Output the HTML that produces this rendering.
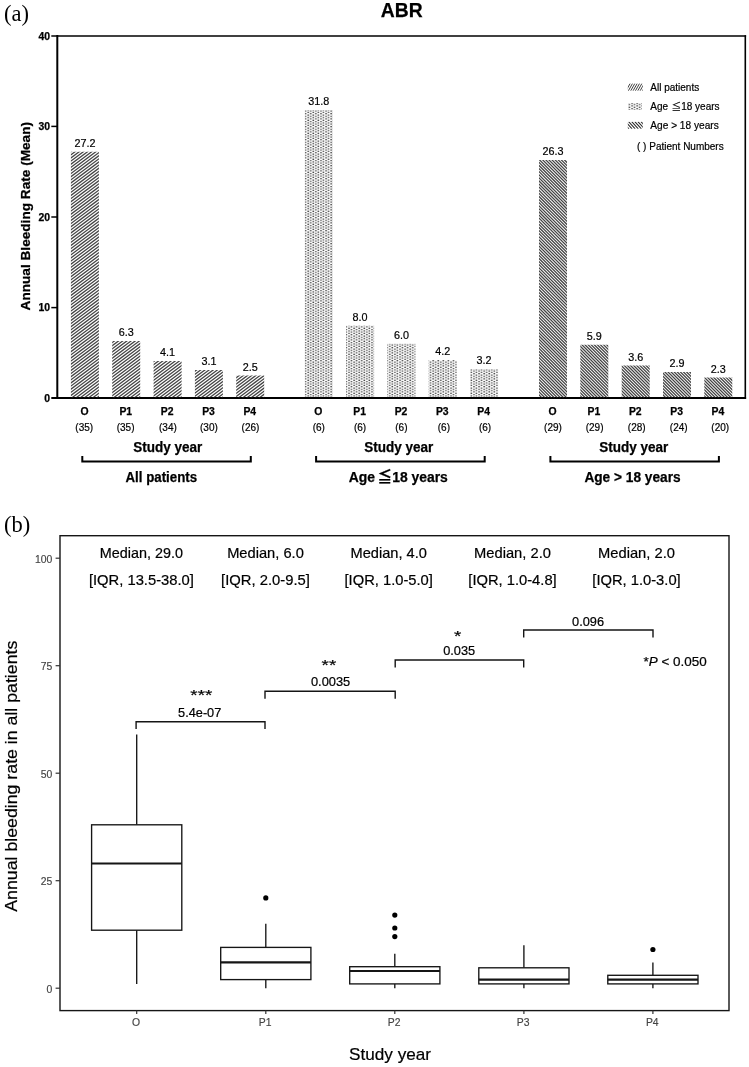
<!DOCTYPE html>
<html lang="en"><head><meta charset="utf-8"><title>ABR figure</title>
<style>
html,body{margin:0;padding:0;background:#fff;}
svg{display:block;filter:grayscale(1);}
text{font-family:"Liberation Sans","Noto Sans CJK TC",sans-serif;fill:#000;stroke:#000;stroke-width:.2px;}
.serif{font-family:"Liberation Serif",serif;stroke:none;}
.b{font-weight:bold;stroke:#000;stroke-width:.25px;}
.g{fill:#444;stroke:#444;stroke-width:.15px;}
</style></head><body>
<svg width="749" height="1067" viewBox="0 0 749 1067">
<defs>
<pattern id="h2" patternUnits="userSpaceOnUse" width="5.1" height="2.6" x="304.6" y="110.5"><rect x="0.3" y="0.1" width="1.55" height="1.1" fill="#2a2a2a"/><rect x="2.85" y="1.4" width="1.55" height="1.1" fill="#2a2a2a"/></pattern>
</defs>
<rect width="749" height="1067" fill="#fff"/>
<text class="serif" x="4" y="20.7" font-size="22.5">(a)</text>
<text class="b" x="401.7" y="16.6" font-size="19.6" text-anchor="middle" textLength="41.8" lengthAdjust="spacingAndGlyphs">ABR</text>
<g stroke="#000" fill="none">
<line x1="57.3" y1="35" x2="57.3" y2="399" stroke-width="2"/>
<line x1="51.3" y1="398" x2="746.1" y2="398" stroke-width="2"/>
<line x1="51.3" y1="35.9" x2="746.1" y2="35.9" stroke-width="1.5"/>
<line x1="745.3" y1="35.2" x2="745.3" y2="399" stroke-width="1.6"/>
<line x1="51.3" y1="307.6" x2="57" y2="307.6" stroke-width="1.5"/>
<line x1="51.3" y1="217.0" x2="57" y2="217.0" stroke-width="1.5"/>
<line x1="51.3" y1="126.4" x2="57" y2="126.4" stroke-width="1.5"/>
</g>
<text class="b" x="50" y="401.7" font-size="10.4" text-anchor="end">0</text>
<text class="b" x="50" y="311.4" font-size="10.4" text-anchor="end">10</text>
<text class="b" x="50" y="220.8" font-size="10.4" text-anchor="end">20</text>
<text class="b" x="50" y="130.2" font-size="10.4" text-anchor="end">30</text>
<text class="b" x="50" y="39.5" font-size="10.4" text-anchor="end">40</text>
<text class="b" transform="translate(30.4,216.2) rotate(-90)" font-size="13.3" text-anchor="middle" textLength="188.5" lengthAdjust="spacingAndGlyphs">Annual Bleeding Rate (Mean)</text>
<text x="84.9" y="146.9" font-size="10.8" text-anchor="middle">27.2</text>
<text class="b" x="84.5" y="414.6" font-size="10.4" text-anchor="middle">O</text>
<text x="84.2" y="431" font-size="10" text-anchor="middle">(35)</text>
<text x="126.2" y="336.2" font-size="10.8" text-anchor="middle">6.3</text>
<text class="b" x="125.8" y="414.6" font-size="10.4" text-anchor="middle">P1</text>
<text x="125.6" y="431" font-size="10" text-anchor="middle">(35)</text>
<text x="167.6" y="356.2" font-size="10.8" text-anchor="middle">4.1</text>
<text class="b" x="167.2" y="414.6" font-size="10.4" text-anchor="middle">P2</text>
<text x="167.9" y="431" font-size="10" text-anchor="middle">(34)</text>
<text x="208.9" y="365.2" font-size="10.8" text-anchor="middle">3.1</text>
<text class="b" x="208.5" y="414.6" font-size="10.4" text-anchor="middle">P3</text>
<text x="208.9" y="431" font-size="10" text-anchor="middle">(30)</text>
<text x="250.2" y="370.7" font-size="10.8" text-anchor="middle">2.5</text>
<text class="b" x="249.8" y="414.6" font-size="10.4" text-anchor="middle">P4</text>
<text x="250.5" y="431" font-size="10" text-anchor="middle">(26)</text>
<path d="M82.3 456 V461.6 H250.8 V456" fill="none" stroke="#000" stroke-width="2"/>
<text class="b" x="167.8" y="452.2" font-size="13.8" text-anchor="middle" textLength="69" lengthAdjust="spacingAndGlyphs">Study year</text>
<text class="b" x="161.3" y="482.4" font-size="13.9" text-anchor="middle" textLength="71.6" lengthAdjust="spacingAndGlyphs">All patients</text>
<rect x="304.8" y="110.1" width="28.0" height="287.1" fill="url(#h2)"/>
<text x="318.8" y="105.2" font-size="10.8" text-anchor="middle">31.8</text>
<text class="b" x="318.4" y="414.6" font-size="10.4" text-anchor="middle">O</text>
<text x="318.8" y="431" font-size="10" text-anchor="middle">(6)</text>
<rect x="346.1" y="325.7" width="28.0" height="71.5" fill="url(#h2)"/>
<text x="360.1" y="320.8" font-size="10.8" text-anchor="middle">8.0</text>
<text class="b" x="359.7" y="414.6" font-size="10.4" text-anchor="middle">P1</text>
<text x="360.1" y="431" font-size="10" text-anchor="middle">(6)</text>
<rect x="387.4" y="343.8" width="28.0" height="53.4" fill="url(#h2)"/>
<text x="401.4" y="338.9" font-size="10.8" text-anchor="middle">6.0</text>
<text class="b" x="401.0" y="414.6" font-size="10.4" text-anchor="middle">P2</text>
<text x="401.4" y="431" font-size="10" text-anchor="middle">(6)</text>
<rect x="428.7" y="360.1" width="28.0" height="37.1" fill="url(#h2)"/>
<text x="442.7" y="355.2" font-size="10.8" text-anchor="middle">4.2</text>
<text class="b" x="442.3" y="414.6" font-size="10.4" text-anchor="middle">P3</text>
<text x="443.9" y="431" font-size="10" text-anchor="middle">(6)</text>
<rect x="470.1" y="369.2" width="28.0" height="28.0" fill="url(#h2)"/>
<text x="484.1" y="364.3" font-size="10.8" text-anchor="middle">3.2</text>
<text class="b" x="483.7" y="414.6" font-size="10.4" text-anchor="middle">P4</text>
<text x="485.1" y="431" font-size="10" text-anchor="middle">(6)</text>
<path d="M316.1 456 V461.6 H484.7 V456" fill="none" stroke="#000" stroke-width="2"/>
<text class="b" x="398.8" y="452.2" font-size="13.8" text-anchor="middle" textLength="69" lengthAdjust="spacingAndGlyphs">Study year</text>
<text class="b" x="348.8" y="482.4" font-size="13.9">Age <tspan x="377.6" font-size="14.5">≦</tspan><tspan x="392.2">18 years</tspan></text>
<text x="553.0" y="155.0" font-size="10.8" text-anchor="middle">26.3</text>
<text class="b" x="552.6" y="414.6" font-size="10.4" text-anchor="middle">O</text>
<text x="553.0" y="431" font-size="10" text-anchor="middle">(29)</text>
<text x="594.3" y="339.8" font-size="10.8" text-anchor="middle">5.9</text>
<text class="b" x="593.9" y="414.6" font-size="10.4" text-anchor="middle">P1</text>
<text x="594.6" y="431" font-size="10" text-anchor="middle">(29)</text>
<text x="635.7" y="360.7" font-size="10.8" text-anchor="middle">3.6</text>
<text class="b" x="635.3" y="414.6" font-size="10.4" text-anchor="middle">P2</text>
<text x="636.7" y="431" font-size="10" text-anchor="middle">(28)</text>
<text x="677.0" y="367.0" font-size="10.8" text-anchor="middle">2.9</text>
<text class="b" x="676.6" y="414.6" font-size="10.4" text-anchor="middle">P3</text>
<text x="678.7" y="431" font-size="10" text-anchor="middle">(24)</text>
<text x="718.3" y="372.5" font-size="10.8" text-anchor="middle">2.3</text>
<text class="b" x="717.9" y="414.6" font-size="10.4" text-anchor="middle">P4</text>
<text x="720.2" y="431" font-size="10" text-anchor="middle">(20)</text>
<path d="M550.4 456 V461.6 H718.9 V456" fill="none" stroke="#000" stroke-width="2"/>
<text class="b" x="633.8" y="452.2" font-size="13.8" text-anchor="middle" textLength="69" lengthAdjust="spacingAndGlyphs">Study year</text>
<text class="b" x="632.5" y="482.4" font-size="13.9" text-anchor="middle" textLength="96.2" lengthAdjust="spacingAndGlyphs">Age &gt; 18 years</text>
<clipPath id="cb1"><rect x="70.9" y="151.8" width="28.0" height="245.4"/><rect x="112.2" y="341.1" width="28.0" height="56.1"/><rect x="153.6" y="361.1" width="28.0" height="36.1"/><rect x="194.9" y="370.1" width="28.0" height="27.1"/><rect x="236.2" y="375.6" width="28.0" height="21.6"/></clipPath>
<clipPath id="cb3"><rect x="539.0" y="159.9" width="28.0" height="237.3"/><rect x="580.3" y="344.7" width="28.0" height="52.5"/><rect x="621.7" y="365.6" width="28.0" height="31.6"/><rect x="663.0" y="371.9" width="28.0" height="25.3"/><rect x="704.3" y="377.4" width="28.0" height="19.8"/></clipPath>
<g clip-path="url(#cb1)"><path d="M69.00 150.00L71.67 148.00M69.00 153.12L75.83 148.00M69.00 156.25L80.00 148.00M69.00 159.38L84.17 148.00M69.00 162.50L88.33 148.00M69.00 165.62L92.50 148.00M69.00 168.75L96.67 148.00M69.00 171.88L100.83 148.00M69.00 175.00L105.00 148.00M69.00 178.12L109.17 148.00M69.00 181.25L113.33 148.00M69.00 184.38L117.50 148.00M69.00 187.50L121.67 148.00M69.00 190.62L125.83 148.00M69.00 193.75L130.00 148.00M69.00 196.88L134.17 148.00M69.00 200.00L138.33 148.00M69.00 203.12L142.50 148.00M69.00 206.25L146.67 148.00M69.00 209.38L150.83 148.00M69.00 212.50L155.00 148.00M69.00 215.62L159.17 148.00M69.00 218.75L163.33 148.00M69.00 221.88L167.50 148.00M69.00 225.00L171.67 148.00M69.00 228.12L175.83 148.00M69.00 231.25L180.00 148.00M69.00 234.38L184.17 148.00M69.00 237.50L188.33 148.00M69.00 240.62L192.50 148.00M69.00 243.75L196.67 148.00M69.00 246.88L200.83 148.00M69.00 250.00L205.00 148.00M69.00 253.12L209.17 148.00M69.00 256.25L213.33 148.00M69.00 259.38L217.50 148.00M69.00 262.50L221.67 148.00M69.00 265.62L225.83 148.00M69.00 268.75L230.00 148.00M69.00 271.88L234.17 148.00M69.00 275.00L238.33 148.00M69.00 278.12L242.50 148.00M69.00 281.25L246.67 148.00M69.00 284.38L250.83 148.00M69.00 287.50L255.00 148.00M69.00 290.62L259.17 148.00M69.00 293.75L263.33 148.00M69.00 296.88L266.00 149.12M69.00 300.00L266.00 152.25M69.00 303.12L266.00 155.38M69.00 306.25L266.00 158.50M69.00 309.38L266.00 161.62M69.00 312.50L266.00 164.75M69.00 315.62L266.00 167.88M69.00 318.75L266.00 171.00M69.00 321.88L266.00 174.12M69.00 325.00L266.00 177.25M69.00 328.12L266.00 180.38M69.00 331.25L266.00 183.50M69.00 334.38L266.00 186.62M69.00 337.50L266.00 189.75M69.00 340.62L266.00 192.88M69.00 343.75L266.00 196.00M69.00 346.88L266.00 199.12M69.00 350.00L266.00 202.25M69.00 353.12L266.00 205.38M69.00 356.25L266.00 208.50M69.00 359.38L266.00 211.62M69.00 362.50L266.00 214.75M69.00 365.62L266.00 217.88M69.00 368.75L266.00 221.00M69.00 371.88L266.00 224.12M69.00 375.00L266.00 227.25M69.00 378.12L266.00 230.38M69.00 381.25L266.00 233.50M69.00 384.38L266.00 236.62M69.00 387.50L266.00 239.75M69.00 390.62L266.00 242.88M69.00 393.75L266.00 246.00M69.00 396.88L266.00 249.12M71.67 398.00L266.00 252.25M75.83 398.00L266.00 255.38M80.00 398.00L266.00 258.50M84.17 398.00L266.00 261.62M88.33 398.00L266.00 264.75M92.50 398.00L266.00 267.88M96.67 398.00L266.00 271.00M100.83 398.00L266.00 274.12M105.00 398.00L266.00 277.25M109.17 398.00L266.00 280.38M113.33 398.00L266.00 283.50M117.50 398.00L266.00 286.62M121.67 398.00L266.00 289.75M125.83 398.00L266.00 292.88M130.00 398.00L266.00 296.00M134.17 398.00L266.00 299.12M138.33 398.00L266.00 302.25M142.50 398.00L266.00 305.38M146.67 398.00L266.00 308.50M150.83 398.00L266.00 311.62M155.00 398.00L266.00 314.75M159.17 398.00L266.00 317.88M163.33 398.00L266.00 321.00M167.50 398.00L266.00 324.12M171.67 398.00L266.00 327.25M175.83 398.00L266.00 330.38M180.00 398.00L266.00 333.50M184.17 398.00L266.00 336.62M188.33 398.00L266.00 339.75M192.50 398.00L266.00 342.88M196.67 398.00L266.00 346.00M200.83 398.00L266.00 349.12M205.00 398.00L266.00 352.25M209.17 398.00L266.00 355.38M213.33 398.00L266.00 358.50M217.50 398.00L266.00 361.62M221.67 398.00L266.00 364.75M225.83 398.00L266.00 367.88M230.00 398.00L266.00 371.00M234.17 398.00L266.00 374.12M238.33 398.00L266.00 377.25M242.50 398.00L266.00 380.38M246.67 398.00L266.00 383.50M250.83 398.00L266.00 386.62M255.00 398.00L266.00 389.75M259.17 398.00L266.00 392.88M263.33 398.00L266.00 396.00" stroke="#454545" stroke-width="1.28" fill="none"/></g>
<g clip-path="url(#cb3)"><path d="M731.00 156.00L733.00 158.00M727.90 156.00L733.00 161.10M724.80 156.00L733.00 164.20M721.70 156.00L733.00 167.30M718.60 156.00L733.00 170.40M715.50 156.00L733.00 173.50M712.40 156.00L733.00 176.60M709.30 156.00L733.00 179.70M706.20 156.00L733.00 182.80M703.10 156.00L733.00 185.90M700.00 156.00L733.00 189.00M696.90 156.00L733.00 192.10M693.80 156.00L733.00 195.20M690.70 156.00L733.00 198.30M687.60 156.00L733.00 201.40M684.50 156.00L733.00 204.50M681.40 156.00L733.00 207.60M678.30 156.00L733.00 210.70M675.20 156.00L733.00 213.80M672.10 156.00L733.00 216.90M669.00 156.00L733.00 220.00M665.90 156.00L733.00 223.10M662.80 156.00L733.00 226.20M659.70 156.00L733.00 229.30M656.60 156.00L733.00 232.40M653.50 156.00L733.00 235.50M650.40 156.00L733.00 238.60M647.30 156.00L733.00 241.70M644.20 156.00L733.00 244.80M641.10 156.00L733.00 247.90M638.00 156.00L733.00 251.00M634.90 156.00L733.00 254.10M631.80 156.00L733.00 257.20M628.70 156.00L733.00 260.30M625.60 156.00L733.00 263.40M622.50 156.00L733.00 266.50M619.40 156.00L733.00 269.60M616.30 156.00L733.00 272.70M613.20 156.00L733.00 275.80M610.10 156.00L733.00 278.90M607.00 156.00L733.00 282.00M603.90 156.00L733.00 285.10M600.80 156.00L733.00 288.20M597.70 156.00L733.00 291.30M594.60 156.00L733.00 294.40M591.50 156.00L733.00 297.50M588.40 156.00L733.00 300.60M585.30 156.00L733.00 303.70M582.20 156.00L733.00 306.80M579.10 156.00L733.00 309.90M576.00 156.00L733.00 313.00M572.90 156.00L733.00 316.10M569.80 156.00L733.00 319.20M566.70 156.00L733.00 322.30M563.60 156.00L733.00 325.40M560.50 156.00L733.00 328.50M557.40 156.00L733.00 331.60M554.30 156.00L733.00 334.70M551.20 156.00L733.00 337.80M548.10 156.00L733.00 340.90M545.00 156.00L733.00 344.00M541.90 156.00L733.00 347.10M538.80 156.00L733.00 350.20M537.00 157.30L733.00 353.30M537.00 160.40L733.00 356.40M537.00 163.50L733.00 359.50M537.00 166.60L733.00 362.60M537.00 169.70L733.00 365.70M537.00 172.80L733.00 368.80M537.00 175.90L733.00 371.90M537.00 179.00L733.00 375.00M537.00 182.10L733.00 378.10M537.00 185.20L733.00 381.20M537.00 188.30L733.00 384.30M537.00 191.40L733.00 387.40M537.00 194.50L733.00 390.50M537.00 197.60L733.00 393.60M537.00 200.70L733.00 396.70M537.00 203.80L731.20 398.00M537.00 206.90L728.10 398.00M537.00 210.00L725.00 398.00M537.00 213.10L721.90 398.00M537.00 216.20L718.80 398.00M537.00 219.30L715.70 398.00M537.00 222.40L712.60 398.00M537.00 225.50L709.50 398.00M537.00 228.60L706.40 398.00M537.00 231.70L703.30 398.00M537.00 234.80L700.20 398.00M537.00 237.90L697.10 398.00M537.00 241.00L694.00 398.00M537.00 244.10L690.90 398.00M537.00 247.20L687.80 398.00M537.00 250.30L684.70 398.00M537.00 253.40L681.60 398.00M537.00 256.50L678.50 398.00M537.00 259.60L675.40 398.00M537.00 262.70L672.30 398.00M537.00 265.80L669.20 398.00M537.00 268.90L666.10 398.00M537.00 272.00L663.00 398.00M537.00 275.10L659.90 398.00M537.00 278.20L656.80 398.00M537.00 281.30L653.70 398.00M537.00 284.40L650.60 398.00M537.00 287.50L647.50 398.00M537.00 290.60L644.40 398.00M537.00 293.70L641.30 398.00M537.00 296.80L638.20 398.00M537.00 299.90L635.10 398.00M537.00 303.00L632.00 398.00M537.00 306.10L628.90 398.00M537.00 309.20L625.80 398.00M537.00 312.30L622.70 398.00M537.00 315.40L619.60 398.00M537.00 318.50L616.50 398.00M537.00 321.60L613.40 398.00M537.00 324.70L610.30 398.00M537.00 327.80L607.20 398.00M537.00 330.90L604.10 398.00M537.00 334.00L601.00 398.00M537.00 337.10L597.90 398.00M537.00 340.20L594.80 398.00M537.00 343.30L591.70 398.00M537.00 346.40L588.60 398.00M537.00 349.50L585.50 398.00M537.00 352.60L582.40 398.00M537.00 355.70L579.30 398.00M537.00 358.80L576.20 398.00M537.00 361.90L573.10 398.00M537.00 365.00L570.00 398.00M537.00 368.10L566.90 398.00M537.00 371.20L563.80 398.00M537.00 374.30L560.70 398.00M537.00 377.40L557.60 398.00M537.00 380.50L554.50 398.00M537.00 383.60L551.40 398.00M537.00 386.70L548.30 398.00M537.00 389.80L545.20 398.00M537.00 392.90L542.10 398.00M537.00 396.00L539.00 398.00" stroke="#454545" stroke-width="1.26" fill="none"/></g>
<clipPath id="c1"><rect x="627.8" y="83.4" width="15" height="7.3"/></clipPath><clipPath id="c3"><rect x="627.8" y="121.8" width="15" height="7"/></clipPath>
<path d="M625.95 90.9L630.25 83.3M628.30 90.9L632.60 83.3M630.65 90.9L634.95 83.3M633.00 90.9L637.30 83.3M635.35 90.9L639.65 83.3M637.70 90.9L642.00 83.3M640.05 90.9L644.35 83.3M642.40 90.9L646.70 83.3" stroke="#2a2a2a" stroke-width=".9" fill="none" clip-path="url(#c1)"/>
<path d="M619.30 121.7L625.90 128.9M622.40 121.7L629.00 128.9M625.50 121.7L632.10 128.9M628.60 121.7L635.20 128.9M631.70 121.7L638.30 128.9M634.80 121.7L641.40 128.9M637.90 121.7L644.50 128.9M641.00 121.7L647.60 128.9M644.10 121.7L650.70 128.9" stroke="#2a2a2a" stroke-width="1.05" fill="none" clip-path="url(#c3)"/>
<rect x="628" y="103" width="14" height="7" fill="url(#h2)"/>
<text x="650.3" y="90.8" font-size="10">All patients</text>
<text x="650.3" y="110" font-size="10">Age <tspan x="671.6" font-size="9.6">≦</tspan><tspan x="681.2">18 years</tspan></text>
<text x="650.3" y="129.2" font-size="10" textLength="68.4" lengthAdjust="spacingAndGlyphs">Age &gt; 18 years</text>
<text x="637" y="150.2" font-size="10" textLength="86.7" lengthAdjust="spacingAndGlyphs">( ) Patient Numbers</text>
<text class="serif" x="4" y="531.6" font-size="22.5">(b)</text>
<rect x="60" y="535.7" width="669" height="474.9" fill="none" stroke="#151515" stroke-width="1.4"/>
<line x1="55.6" y1="988.2" x2="60" y2="988.2" stroke="#333" stroke-width="1.2"/>
<text class="g" x="52.4" y="992.7" font-size="10.4" text-anchor="end">0</text>
<line x1="55.6" y1="880.7" x2="60" y2="880.7" stroke="#333" stroke-width="1.2"/>
<text class="g" x="52.4" y="885.2" font-size="10.4" text-anchor="end">25</text>
<line x1="55.6" y1="773.2" x2="60" y2="773.2" stroke="#333" stroke-width="1.2"/>
<text class="g" x="52.4" y="777.7" font-size="10.4" text-anchor="end">50</text>
<line x1="55.6" y1="665.7" x2="60" y2="665.7" stroke="#333" stroke-width="1.2"/>
<text class="g" x="52.4" y="670.2" font-size="10.4" text-anchor="end">75</text>
<line x1="55.6" y1="558.2" x2="60" y2="558.2" stroke="#333" stroke-width="1.2"/>
<text class="g" x="52.4" y="562.7" font-size="10.4" text-anchor="end">100</text>
<text transform="translate(17.1,776.2) rotate(-90)" font-size="17" text-anchor="middle" stroke="#000" stroke-width=".3" textLength="271" lengthAdjust="spacingAndGlyphs">Annual bleeding rate in all patients</text>
<text x="390" y="1059.9" font-size="16.6" text-anchor="middle" stroke="#000" stroke-width=".3" textLength="82" lengthAdjust="spacingAndGlyphs">Study year</text>
<g stroke="#151515" fill="none" stroke-width="1.35">
<line x1="136.7" y1="734.5" x2="136.7" y2="824.8"/>
<line x1="136.7" y1="930.2" x2="136.7" y2="983.9"/>
<rect x="91.6" y="824.8" width="90.2" height="105.4" fill="#fff"/>
<line x1="91.6" y1="863.5" x2="181.8" y2="863.5" stroke-width="2.1"/>
<line x1="136.7" y1="1010.6" x2="136.7" y2="1014" stroke="#333" stroke-width="1.2"/>
</g>
<text class="g" x="136.1" y="1026" font-size="10.4" text-anchor="middle">O</text>
<text x="141.4" y="558.2" font-size="14.2" text-anchor="middle" textLength="83.1" lengthAdjust="spacingAndGlyphs">Median, 29.0</text>
<text x="141.4" y="584.8" font-size="14.2" text-anchor="middle" textLength="105" lengthAdjust="spacingAndGlyphs">[IQR, 13.5-38.0]</text>
<g stroke="#151515" fill="none" stroke-width="1.35">
<line x1="265.8" y1="923.7" x2="265.8" y2="947.4"/>
<line x1="265.8" y1="979.6" x2="265.8" y2="988.2"/>
<rect x="220.7" y="947.4" width="90.2" height="32.2" fill="#fff"/>
<line x1="220.7" y1="962.4" x2="310.9" y2="962.4" stroke-width="2.1"/>
<line x1="265.8" y1="1010.6" x2="265.8" y2="1014" stroke="#333" stroke-width="1.2"/>
</g>
<circle cx="265.8" cy="897.9" r="2.6" fill="#000"/>
<text class="g" x="265.1" y="1026" font-size="10.4" text-anchor="middle">P1</text>
<text x="265.5" y="558.2" font-size="14.2" text-anchor="middle" textLength="76.7" lengthAdjust="spacingAndGlyphs">Median, 6.0</text>
<text x="265.5" y="584.8" font-size="14.2" text-anchor="middle" textLength="88.8" lengthAdjust="spacingAndGlyphs">[IQR, 2.0-9.5]</text>
<g stroke="#151515" fill="none" stroke-width="1.35">
<line x1="394.8" y1="953.8" x2="394.8" y2="966.7"/>
<line x1="394.8" y1="983.9" x2="394.8" y2="988.2"/>
<rect x="349.7" y="966.7" width="90.2" height="17.2" fill="#fff"/>
<line x1="349.7" y1="971.0" x2="439.9" y2="971.0" stroke-width="2.1"/>
<line x1="394.8" y1="1010.6" x2="394.8" y2="1014" stroke="#333" stroke-width="1.2"/>
</g>
<circle cx="394.8" cy="936.6" r="2.6" fill="#000"/>
<circle cx="394.8" cy="928.0" r="2.6" fill="#000"/>
<circle cx="394.8" cy="915.1" r="2.6" fill="#000"/>
<text class="g" x="394.2" y="1026" font-size="10.4" text-anchor="middle">P2</text>
<text x="388.7" y="558.2" font-size="14.2" text-anchor="middle" textLength="76.3" lengthAdjust="spacingAndGlyphs">Median, 4.0</text>
<text x="388.7" y="584.8" font-size="14.2" text-anchor="middle" textLength="88.4" lengthAdjust="spacingAndGlyphs">[IQR, 1.0-5.0]</text>
<g stroke="#151515" fill="none" stroke-width="1.35">
<line x1="523.9" y1="945.2" x2="523.9" y2="967.8"/>
<line x1="523.9" y1="983.9" x2="523.9" y2="988.2"/>
<rect x="478.8" y="967.8" width="90.2" height="16.1" fill="#fff"/>
<line x1="478.8" y1="979.6" x2="569.0" y2="979.6" stroke-width="2.1"/>
<line x1="523.9" y1="1010.6" x2="523.9" y2="1014" stroke="#333" stroke-width="1.2"/>
</g>
<text class="g" x="523.2" y="1026" font-size="10.4" text-anchor="middle">P3</text>
<text x="512.5" y="558.2" font-size="14.2" text-anchor="middle" textLength="76.8" lengthAdjust="spacingAndGlyphs">Median, 2.0</text>
<text x="512.5" y="584.8" font-size="14.2" text-anchor="middle" textLength="88.4" lengthAdjust="spacingAndGlyphs">[IQR, 1.0-4.8]</text>
<g stroke="#151515" fill="none" stroke-width="1.35">
<line x1="652.9" y1="962.4" x2="652.9" y2="975.3"/>
<line x1="652.9" y1="983.9" x2="652.9" y2="988.2"/>
<rect x="607.8" y="975.3" width="90.2" height="8.6" fill="#fff"/>
<line x1="607.8" y1="979.6" x2="698.0" y2="979.6" stroke-width="2.1"/>
<line x1="652.9" y1="1010.6" x2="652.9" y2="1014" stroke="#333" stroke-width="1.2"/>
</g>
<circle cx="652.9" cy="949.5" r="2.6" fill="#000"/>
<text class="g" x="652.3" y="1026" font-size="10.4" text-anchor="middle">P4</text>
<text x="636.5" y="558.2" font-size="14.2" text-anchor="middle" textLength="76.8" lengthAdjust="spacingAndGlyphs">Median, 2.0</text>
<text x="636.5" y="584.8" font-size="14.2" text-anchor="middle" textLength="88.4" lengthAdjust="spacingAndGlyphs">[IQR, 1.0-3.0]</text>
<path d="M136.1 729.1 V721.7 H265.0 V729.1" fill="none" stroke="#151515" stroke-width="1.4"/>
<text x="199.7" y="716.9" font-size="12.4" text-anchor="middle" textLength="43.2" lengthAdjust="spacingAndGlyphs">5.4e-07</text>
<text x="201.3" y="700.1" font-size="15" text-anchor="middle" stroke="#000" stroke-width=".55" textLength="21.9" lengthAdjust="spacingAndGlyphs">***</text>
<path d="M265.0 698.6999999999999 V691.3 H395.2 V698.6999999999999" fill="none" stroke="#151515" stroke-width="1.4"/>
<text x="330.6" y="686.2" font-size="12.4" text-anchor="middle" textLength="39.3" lengthAdjust="spacingAndGlyphs">0.0035</text>
<text x="328.9" y="669.9" font-size="15" text-anchor="middle" stroke="#000" stroke-width=".55" textLength="14.6" lengthAdjust="spacingAndGlyphs">**</text>
<path d="M395.2 667.4 V660.0 H523.7 V667.4" fill="none" stroke="#151515" stroke-width="1.4"/>
<text x="459.2" y="655.2" font-size="12.4" text-anchor="middle" textLength="32" lengthAdjust="spacingAndGlyphs">0.035</text>
<text x="457.6" y="641.1" font-size="15" text-anchor="middle" stroke="#000" stroke-width=".55" textLength="7.3" lengthAdjust="spacingAndGlyphs">*</text>
<path d="M523.7 637.4 V630.0 H653.0 V637.4" fill="none" stroke="#151515" stroke-width="1.4"/>
<text x="588.1" y="625.6" font-size="12.4" text-anchor="middle" textLength="32" lengthAdjust="spacingAndGlyphs">0.096</text>
<text x="643.5" y="666" font-size="12.4" textLength="63.2" lengthAdjust="spacingAndGlyphs">*<tspan font-style="italic">P</tspan> &lt; 0.050</text>
</svg></body></html>
